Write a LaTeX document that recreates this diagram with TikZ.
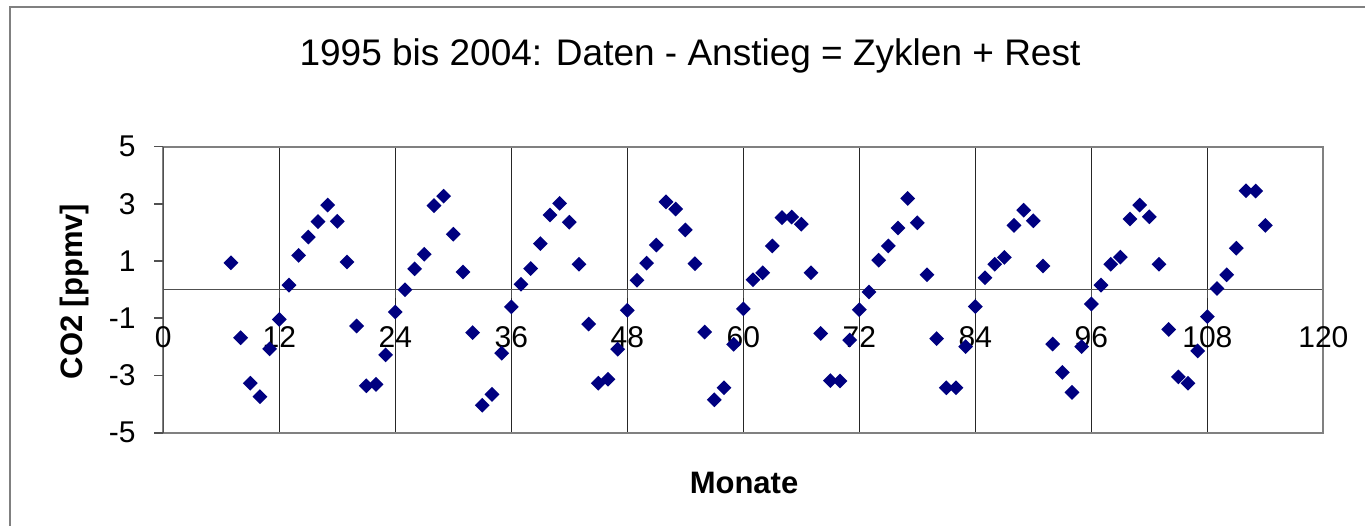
\documentclass[tikz,border=0pt]{standalone}
\usepackage{fontspec}
\setmainfont{Liberation Sans}
\usetikzlibrary{shapes.geometric}
\definecolor{navy}{HTML}{000080}
\definecolor{framegray}{HTML}{808080}
\definecolor{axisgray}{HTML}{505050}
\begin{document}
\begin{tikzpicture}[x=1pt,y=-1pt,
  datapt/.style={diamond, aspect=1, fill=navy, draw=none, inner sep=0pt, minimum width=15pt, minimum height=15pt},
  gridline/.style={draw=black!85, line width=1.1pt},
  zeroline/.style={draw=axisgray, line width=1.2pt},
  axisline/.style={draw=axisgray, line width=1.6pt},
  plotborder/.style={draw=framegray, line width=2pt},
  ticklab/.style={inner sep=0pt, font=\fontsize{30}{34}\selectfont},
  axistitle/.style={inner sep=0pt, font=\fontsize{31}{36}\selectfont\bfseries},
  charttitle/.style={inner sep=0pt, font=\fontsize{37}{42}\selectfont}]
\useasboundingbox (0,0) rectangle (1365,526);
\fill[white] (0,0) rectangle (1365,526);
\draw[framegray, line width=1.5pt] (10,526) -- (10,7) -- (1365,7);
\begin{scope}[shift={(163.3,289.7)}, x=9.667pt, y=28.6pt]
  \foreach \m in {12,24,...,108} \draw[gridline] (\m,-5) -- (\m,5);
  \draw[zeroline] (0,0) -- (120,0);
  \foreach \m in {12,24,...,120} \draw[zeroline] (\m,0) -- ++(0,-8pt);
  \draw[plotborder] (0,-5) rectangle (120,5);
  \draw[axisline] (0,-5) -- (0,5);
  \foreach \v in {5,3,1,-1,-3,-5} \draw[axisline] (0,\v) -- ++(-9pt,0);
  \foreach \v in {5,3,1,-1,-3,-5}
    \node[ticklab, anchor=east] (yl\v) at ([xshift=-27.5pt]0,\v) {\v};
  \foreach \m in {0,12,...,120}
    \node[ticklab, anchor=base] (xl\m) at ([yshift=-58.3pt]\m,0) {\m};
  \foreach \m/\v in {7/0.94, 8/-1.68, 9/-3.27, 10/-3.74, 11/-2.07, 12/-1.04, 13/0.16, 14/1.20, 15/1.84, 16/2.38, 17/2.96, 18/2.39, 19/0.97, 20/-1.27, 21/-3.36, 22/-3.31, 23/-2.28, 24/-0.78, 25/0.0, 26/0.73, 27/1.24, 28/2.94, 29/3.27, 30/1.94, 31/0.62, 32/-1.50, 33/-4.04, 34/-3.66, 35/-2.22, 36/-0.60, 37/0.19, 38/0.74, 39/1.61, 40/2.61, 41/3.02, 42/2.36, 43/0.89, 44/-1.20, 45/-3.27, 46/-3.13, 47/-2.08, 48/-0.72, 49/0.33, 50/0.93, 51/1.56, 52/3.07, 53/2.82, 54/2.09, 55/0.91, 56/-1.48, 57/-3.85, 58/-3.43, 59/-1.91, 60/-0.67, 61/0.35, 62/0.59, 63/1.53, 64/2.52, 65/2.54, 66/2.29, 67/0.59, 68/-1.53, 69/-3.18, 70/-3.19, 71/-1.76, 72/-0.70, 73/-0.08, 74/1.03, 75/1.53, 76/2.16, 77/3.19, 78/2.34, 79/0.52, 80/-1.71, 81/-3.43, 82/-3.43, 83/-1.99, 84/-0.59, 85/0.42, 86/0.89, 87/1.13, 88/2.25, 89/2.78, 90/2.41, 91/0.83, 92/-1.90, 93/-2.89, 94/-3.59, 95/-1.99, 96/-0.50, 97/0.16, 98/0.89, 99/1.14, 100/2.47, 101/2.96, 102/2.55, 103/0.89, 104/-1.39, 105/-3.05, 106/-3.27, 107/-2.14, 108/-0.94, 109/0.04, 110/0.52, 111/1.45, 112/3.46, 113/3.45, 114/2.25}
    \node[datapt] (d\m) at (\m,\v) {};
\end{scope}
\node[charttitle, anchor=base] (title) at (690,66) {1995 bis 2004: Daten - Anstieg = Zyklen + Rest};
\node[axistitle, anchor=base] (xtitle) at (744,493) {Monate};
\node[axistitle, anchor=base, rotate=90] (ytitle) at (82,291.5) {CO2 [ppmv]};
\end{tikzpicture}
\end{document}
